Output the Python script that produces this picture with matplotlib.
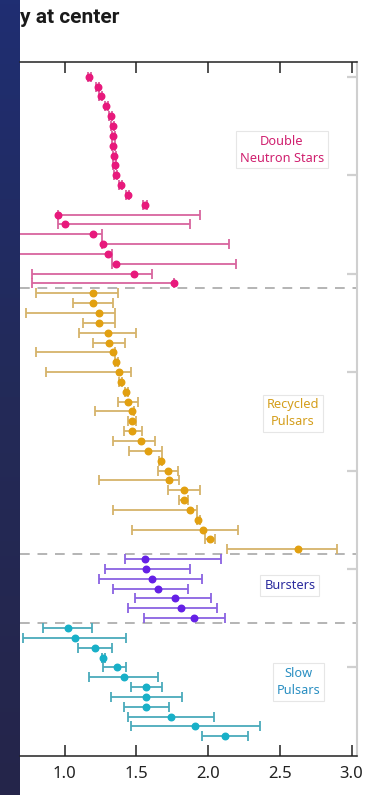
import matplotlib
matplotlib.use("Agg")
import matplotlib.pyplot as plt
import numpy as np

plt.rcParams['font.family'] = ['Noto Sans', 'DejaVu Sans']

# neutron star masses (solar masses) with lower / upper bounds of the error bars
dns_mass = [1.17, 1.23, 1.25, 1.29, 1.32, 1.335, 1.34, 1.34, 1.345, 1.35, 1.355,
            1.39, 1.44, 1.56, 0.95, 1.00, 1.20, 1.27, 1.30, 1.36, 1.48, 1.76]
dns_low = [1.16, 1.22, 1.24, 1.28, 1.31, 1.325, 1.33, 1.33, 1.335, 1.34, 1.345,
           1.38, 1.43, 1.545, 0.95, 0.95, 0.50, 1.26, 0.50, 1.33, 0.77, 0.775]
dns_high = [1.18, 1.24, 1.26, 1.30, 1.33, 1.345, 1.35, 1.35, 1.355, 1.36, 1.365,
            1.40, 1.45, 1.575, 1.945, 1.87, 1.26, 2.146, 1.33, 2.195, 1.61, 1.76]

rec_mass = [1.20, 1.20, 1.24, 1.24, 1.30, 1.31, 1.34, 1.36, 1.38, 1.39, 1.43, 1.44,
            1.47, 1.47, 1.47, 1.53, 1.58, 1.67, 1.72, 1.73, 1.83, 1.83, 1.875,
            1.93, 1.965, 2.01, 2.63]
rec_low = [0.80, 1.06, 0.73, 1.13, 1.10, 1.20, 0.80, 1.35, 0.87, 1.38, 1.42, 1.37,
           1.21, 1.44, 1.41, 1.335, 1.45, 1.66, 1.65, 1.24, 1.72, 1.80, 1.34,
           1.92, 1.47, 1.975, 2.13]
rec_high = [1.37, 1.34, 1.35, 1.35, 1.50, 1.42, 1.35, 1.37, 1.46, 1.40, 1.44, 1.51,
            1.48, 1.50, 1.54, 1.63, 1.68, 1.68, 1.79, 1.80, 1.94, 1.86, 1.92,
            1.94, 2.21, 2.045, 2.90]

bur_mass = [1.56, 1.57, 1.61, 1.65, 1.77, 1.81, 1.90]
bur_low = [1.42, 1.28, 1.24, 1.34, 1.49, 1.44, 1.55]
bur_high = [2.09, 1.87, 1.96, 1.86, 2.02, 2.06, 2.12]

slow_mass = [1.02, 1.07, 1.21, 1.27, 1.365, 1.41, 1.57, 1.57, 1.57, 1.74, 1.91, 2.12]
slow_low = [0.85, 0.71, 1.09, 1.26, 1.27, 1.17, 1.46, 1.32, 1.41, 1.44, 1.46, 1.96]
slow_high = [1.19, 1.43, 1.33, 1.28, 1.425, 1.65, 1.68, 1.82, 1.73, 2.04, 2.36, 2.28]

# name, data, marker colour, bar colour, label colour, label x, label row offset, bold
groups = [
    ("Double\nNeutron Stars", dns_mass, dns_low, dns_high, "#e8197c", "#d8659e", "#d0206f", 2.515, -3.1, False),
    ("Recycled\nPulsars", rec_mass, rec_low, rec_high, "#e2a010", "#d6b36a", "#d49e1c", 2.59, -0.8, False),
    ("Bursters", bur_mass, bur_low, bur_high, "#6420e6", "#8a62e2", "#2b2b9e", 2.57, -0.3, True),
    ("Slow\nPulsars", slow_mass, slow_low, slow_high, "#18b0c8", "#4aaabb", "#2a8fc2", 2.63, 0.0, False),
]

fig = plt.figure(figsize=(3.82, 7.95), dpi=100)

# dark strip at the left edge
strip = fig.add_axes([0, 0, 20 / 382, 1])
grad = np.linspace(0, 1, 200).reshape(-1, 1)
cmap = matplotlib.colors.LinearSegmentedColormap.from_list("strip", ["#1f2e72", "#232a58", "#25254a"])
strip.imshow(grad, aspect="auto", cmap=cmap, extent=[0, 1, 0, 1], origin="upper")
strip.axis("off")

fig.text(20 / 382, 1 - 23 / 795, "y at center", fontsize=15, fontweight="bold",
         family=["Roboto", "DejaVu Sans"], color="#1a1a1a", va="baseline", ha="left")

ax = fig.add_axes([20 / 382, 39 / 795, 337 / 382, 694 / 795])

row = 0
for gi, (name, mass, low, high, col, ecol, tcol, lx, dy, bold) in enumerate(groups):
    mass = np.array(mass)
    y = np.arange(row, row + len(mass))
    xerr = [mass - np.array(low), np.array(high) - mass]
    ax.errorbar(mass, y, xerr=xerr, fmt="o", color=col, ms=4.7, ecolor=ecol,
                elinewidth=1.3, capsize=3.5, capthick=1.3, zorder=3)
    ax.text(lx, row + (len(mass) - 1) / 2 + dy, name, ha="center", va="center",
            color=tcol, fontsize=9.2, fontweight="semibold" if bold else "normal",
            linespacing=1.4,
            bbox=dict(boxstyle="square,pad=0.3", fc="white", ec="#e6e6e6", lw=0.8))
    row += len(mass)
    if gi < len(groups) - 1:
        ax.axhline(row - 0.5, color="#b4b4b4", lw=1.4, ls=(0, (5, 4)), zorder=1)

ax.set_xlim(0.688, 3.038)
ax.set_ylim(69.0, -1.5)
ax.set_xticks([1.0, 1.5, 2.0, 2.5, 3.0])
ax.set_xticklabels(["1.0", "1.5", "2.0", "2.5", "3.0"])
ax.tick_params(axis="x", direction="in", length=8, width=1.1, color="#222222",
               top=True, labelsize=12, pad=7, labelcolor="#222222")
ax.set_yticks(np.arange(0, 61, 10))
ax.tick_params(axis="y", direction="in", length=7, width=1.6, color="#d0d0d0",
               left=False, right=True, labelleft=False)

ax.spines["left"].set_visible(False)
ax.spines["right"].set_color("#cfcfcf")
ax.spines["right"].set_linewidth(1.5)
ax.spines["top"].set_color("#222222")
ax.spines["bottom"].set_color("#222222")
ax.spines["top"].set_linewidth(1.1)
ax.spines["bottom"].set_linewidth(1.1)

fig.savefig("out.png", dpi=100)
